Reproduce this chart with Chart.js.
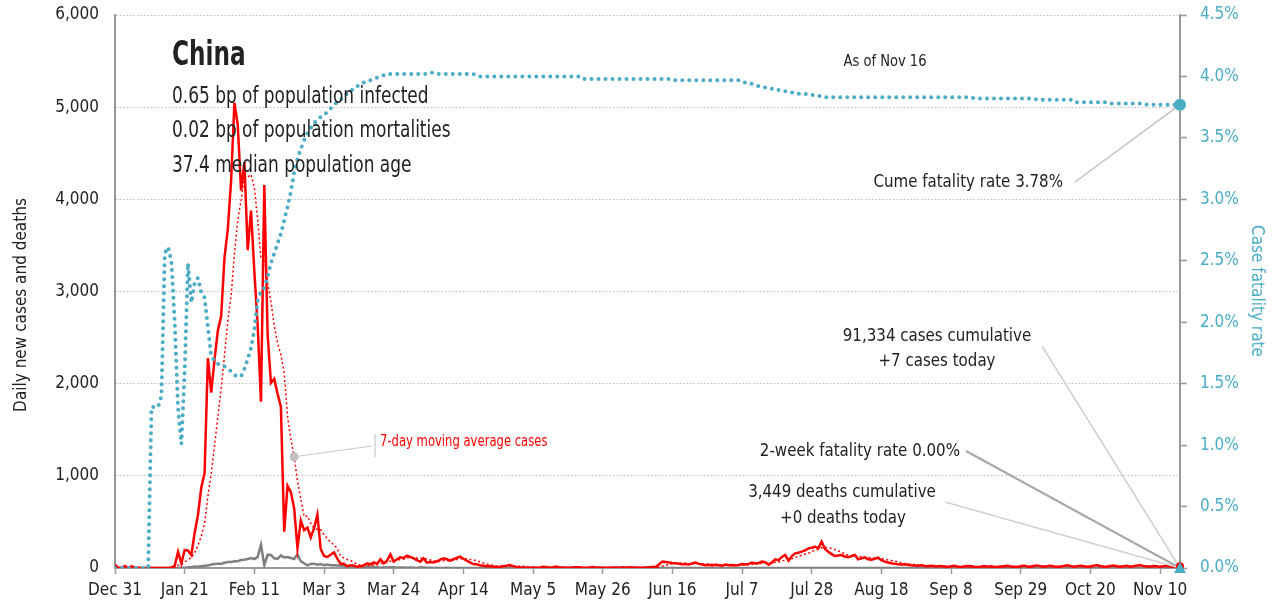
<!DOCTYPE html>
<html>
<head>
<meta charset="utf-8">
<script src="https://cdn.jsdelivr.net/npm/chart.js@4/dist/chart.umd.min.js"></script>
<style>
  body { margin: 0; background: #fff; }
</style>
</head>
<body>
<canvas id="chart" width="1274" height="610"></canvas>
<script>
// x ticks every 21 days from Dec 31
const xTickLabels = ['Dec 31', 'Jan 21', 'Feb 11', 'Mar 3', 'Mar 24', 'Apr 14', 'May 5', 'May 26',
  'Jun 16', 'Jul 7', 'Jul 28', 'Aug 18', 'Sep 8', 'Sep 29', 'Oct 20', 'Nov 10'];

// daily new cases, Dec 31 .. Nov 16
const cases = [
  35,0,0,22,0,20,0,0,0,0, 0,0,0,0,0,0,0,5,22,177,
  51,195,190,140,380,575,870,1030,2278,1902, 2262,2574,2733,3367,3675,4206,5049,4806,4096,4403,
  3449,3879,3215,2629,1805,4156,2538,2007,2052,1890, 1750,394,891,826,647,218,515,410,439,331,
  433,579,206,130,120,143,170,102,46,45, 20,29,24,15,20,30,50,40,60,45,
  94,51,80,148,69,95,116,110,134,120, 105,85,69,105,58,65,60,70,90,105,
  95,80,95,110,123,100,80,60,43,40, 30,25,20,18,15,12,14,20,25,33,
  20,12,8,6,4,3,5,2,3,14, 10,4,7,17,5,6,3,2,5,7,
  8,3,4,6,11,4,5,4,2,3, 5,6,4,8,3,7,5,6,4,3,
  6,8,10,12,40,69,65,60,55,51, 45,40,42,38,50,58,45,38,30,35,
  28,35,30,25,38,30,33,28,33,43, 38,45,58,50,55,69,62,35,60,94,
  85,120,141,80,130,159,165,177,190,213, 220,231,215,285,206,177,150,130,135,141,
  125,116,130,141,94,105,116,95,90,100, 112,85,69,60,51,45,40,38,40,35,
  30,28,25,30,22,20,25,18,20,22, 15,12,18,25,14,10,16,22,19,13,
  9,15,21,14,18,12,10,16,20,23, 17,14,11,19,26,15,13,21,28,18,
  14,20,24,17,12,16,21,29,22,15, 19,24,18,13,17,25,32,20,16,14,
  22,27,19,13,18,24,15,20,26,33, 21,17,15,22,18,12,20,25,16,14,
  13,7
];

// 7-day moving average of cases
const avgCases = [
  5,5,5,8,8,11,11,6,6,6, 3,3,0,0,0,0,0,1,4,29,
  36,64,91,111,165,244,343,483,780,1025, 1328,1642,1950,2307,2684,2960,3409,3773,3990,4229,
  4241,4270,4128,3782,3354,3362,3096,2890,2629,2440, 2314,2112,1646,1401,1207,945,749,557,564,484,
  428,418,416,361,320,277,254,207,131,108, 92,79,62,40,28,26,27,30,34,37,
  48,53,60,74,78,83,93,96,107,113, 107,109,106,104,97,87,78,73,74,79,
  78,81,85,92,100,101,98,93,87,79, 68,54,43,34,27,23,19,18,18,20,
  20,19,19,18,15,12,8,6,4,5, 6,6,6,8,9,9,7,6,6,6,
  5,5,5,5,6,6,6,5,5,4, 4,4,4,5,5,5,5,5,5,5,
  5,6,6,7,12,21,30,38,44,50, 55,55,51,47,46,46,45,44,43,42,
  41,38,34,32,32,32,31,31,31,33, 35,36,40,42,46,51,54,53,56,61,
  66,75,85,88,101,116,126,139,149,159, 179,194,202,219,223,221,212,199,185,175,
  152,139,132,131,126,122,118,114,110,106, 102,100,95,87,81,75,66,55,49,44,
  40,37,34,32,30,27,26,24,23,22, 20,18,17,18,17,17,16,17,18,17,
  15,15,16,16,16,15,15,15,15,16, 17,16,16,17,18,18,18,18,19,19,
  19,20,21,20,19,18,18,20,20,19, 19,21,21,20,19,20,21,21,20,20,
  21,22,21,19,18,20,20,20,20,22, 22,22,21,21,20,20,18,18,18,17,
  17,15
];

// daily new deaths
const deaths = [
  0,0,0,0,0,0,0,0,0,0, 0,1,0,0,0,0,1,0,1,1,
  3,3,9,8,16,14,20,25,26,38, 43,46,45,57,64,65,73,73,86,89,
  97,108,97,121,254,30,143,142,105,98, 136,114,118,109,97,150,71,52,29,44,
  47,35,42,31,38,31,30,28,27,22, 17,22,11,7,13,10,14,13,11,8,
  3,7,6,9,7,4,6,5,3,5, 4,1,7,6,2,3,1,2,1,1,
  2,1,1,0,1,0,0,1,0,0, 0,0,0,0,0,0,0,0,0,0,
  0,0,0,0,0,0,0,0,0,0, 0,0,0,0,0,0,0,0,0,0,
  0,0,0,0,0,0,0,0,0,0, 0,0,0,0,0,0,0,0,0,0,
  0,0,0,0,0,0,0,0,0,0, 0,0,0,0,0,0,0,0,0,0,
  0,0,0,0,0,0,0,0,0,0, 0,0,0,0,0,0,0,0,0,0,
  0,0,0,0,0,0,0,0,0,0, 0,0,0,0,0,0,0,0,0,0,
  0,0,0,0,0,0,0,0,0,0, 0,0,0,0,0,0,0,0,0,0,
  0,0,0,0,0,0,0,0,0,0, 0,0,0,0,0,0,0,0,0,0,
  0,0,0,0,0,0,0,0,0,0, 0,0,0,0,0,0,0,0,0,0,
  0,0,0,0,0,0,0,0,0,0, 0,0,0,0,0,0,0,0,0,0,
  0,0,0,0,0,0,0,0,0,0, 0,0,0,0,0,0,0,0,0,0,
  0,0
];

// cumulative case fatality rate, %
const cfr = [
  0,0,0,0,0,0,0,0,0,0, 0,1.31,1.31,1.31,1.40,2.56,2.61,2.50,2.0,1.3,
  1.01,1.6,2.48,2.16,2.32,2.36,2.24,2.2,1.96,1.72, 1.69,1.66,1.65,1.64,1.62,1.60,1.57,1.56,1.56,1.62,
  1.70,1.79,1.94,2.18,2.25,2.28,2.37,2.48,2.56,2.64, 2.72,2.83,2.94,3.06,3.22,3.33,3.41,3.48,3.54,3.58,
  3.62,3.65,3.67,3.69,3.71,3.74,3.77,3.79,3.81,3.84, 3.86,3.88,3.90,3.92,3.94,3.95,3.96,3.97,3.98,3.99,
  4.00,4.01,4.02,4.02,4.02,4.02,4.02,4.02,4.02,4.02, 4.02,4.02,4.02,4.02,4.02,4.03,4.03,4.02,4.02,4.02,
  4.02,4.02,4.02,4.02,4.02,4.02,4.02,4.02,4.02,4.01, 4.00,4.00,4.00,4.00,4.00,4.00,4.00,4.00,4.00,4.00,
  4.00,4.00,4.00,4.00,4.00,4.00,4.00,4.00,4.00,4.00, 4.00,4.00,4.00,4.00,4.00,4.00,4.00,4.00,4.00,4.00,
  4.00,3.98,3.98,3.98,3.98,3.98,3.98,3.98,3.98,3.98, 3.98,3.98,3.98,3.98,3.98,3.98,3.98,3.98,3.98,3.98,
  3.98,3.98,3.98,3.98,3.98,3.98,3.98,3.98,3.97,3.97, 3.97,3.97,3.97,3.97,3.97,3.97,3.97,3.97,3.97,3.97,
  3.97,3.97,3.97,3.97,3.97,3.97,3.97,3.97,3.97,3.96, 3.95,3.94,3.94,3.93,3.92,3.92,3.91,3.91,3.90,3.90,
  3.89,3.89,3.88,3.88,3.87,3.87,3.86,3.86,3.86,3.85, 3.85,3.85,3.84,3.84,3.83,3.83,3.83,3.83,3.83,3.83,
  3.83,3.83,3.83,3.83,3.83,3.83,3.83,3.83,3.83,3.83, 3.83,3.83,3.83,3.83,3.83,3.83,3.83,3.83,3.83,3.83,
  3.83,3.83,3.83,3.83,3.83,3.83,3.83,3.83,3.83,3.83, 3.83,3.83,3.83,3.83,3.83,3.83,3.83,3.83,3.83,3.82,
  3.82,3.82,3.82,3.82,3.82,3.82,3.82,3.82,3.82,3.82, 3.82,3.82,3.82,3.82,3.82,3.82,3.82,3.82,3.81,3.81,
  3.81,3.81,3.81,3.81,3.81,3.81,3.81,3.81,3.81,3.81, 3.79,3.79,3.79,3.79,3.79,3.79,3.79,3.79,3.79,3.79,
  3.78,3.78,3.78,3.78,3.78,3.78,3.78,3.78,3.78,3.78, 3.78,3.77,3.77,3.77,3.77,3.77,3.77,3.77,3.77,3.77,
  3.77,3.77
];

const FONT = "'Liberation Sans Narrow', 'DejaVu Sans Condensed', 'Roboto Condensed', sans-serif";
const TEAL = '#4bacc6';
const RED = '#ff0000';
const DARK = '#222222';

Chart.defaults.font.family = FONT;
Chart.defaults.color = DARK;

const toXY = arr => arr.map((v, i) => ({ x: i, y: v }));

function line(ctx, x1, y1, x2, y2, color, w) {
  ctx.beginPath();
  ctx.strokeStyle = color;
  ctx.lineWidth = w;
  ctx.moveTo(x1, y1);
  ctx.lineTo(x2, y2);
  ctx.stroke();
}

// text squeezed horizontally by sx to get the narrow look of the original
function text(ctx, s, x, y, size, color, align, sx, weight) {
  ctx.save();
  ctx.translate(x, y);
  ctx.scale(sx || 1, 1);
  ctx.font = (weight || 'normal') + ' ' + size + 'px ' + FONT;
  ctx.fillStyle = color;
  ctx.textAlign = align || 'left';
  ctx.textBaseline = 'middle';
  ctx.fillText(s, 0, 0);
  ctx.restore();
}

// keep the plot area fixed: y axes get no extra top/bottom padding
const noVPad = scale => {
  scale.paddingTop = 0;
  scale.paddingBottom = 0;
};

const annotate = {
  id: 'annotate',
  afterDatasetsDraw(chart) {
    const { ctx, scales } = chart;
    const x = scales.x, y = scales.y, y2 = scales.y2;
    const last = cases.length - 1;
    const endX = x.getPixelForValue(last);
    const cfrY = y2.getPixelForValue(cfr[last]);
    const baseY = y.getPixelForValue(0);
    ctx.save();

    // title block
    text(ctx, 'China', 172, 56, 33, DARK, 'left', 0.78, '600');
    text(ctx, '0.65 bp of population infected', 172, 97, 23, DARK, 'left', 0.82);
    text(ctx, '0.02 bp of population mortalities', 172, 131, 23, DARK, 'left', 0.82);
    text(ctx, '37.4 median population age', 172, 166, 23, DARK, 'left', 0.82);
    text(ctx, 'As of Nov 16', 885, 62, 15, DARK, 'center', 0.97);

    // 7-day average callout
    const mx = x.getPixelForValue(54), my = y.getPixelForValue(avgCases[54]);
    line(ctx, mx, my, 372, 446, '#c8c8c8', 1.2);
    line(ctx, 375, 434, 375, 457, '#c8c8c8', 1.2);
    ctx.beginPath();
    ctx.fillStyle = '#c0c0c0';
    ctx.arc(mx, my, 4.5, 0, Math.PI * 2);
    ctx.fill();
    text(ctx, '7-day moving average cases', 380, 442, 15, RED, 'left', 0.86);

    // right side callouts
    line(ctx, 1075, 182, endX, cfrY, '#c0c0c0', 1.5);
    text(ctx, 'Cume fatality rate 3.78%', 1063, 182, 18, DARK, 'right', 0.93);

    line(ctx, 1042, 346, endX, baseY, '#d0d0d0', 1.5);
    text(ctx, '91,334 cases cumulative', 937, 336, 18, DARK, 'center', 0.93);
    text(ctx, '+7 cases today', 937, 361, 18, DARK, 'center', 0.93);

    line(ctx, 966, 451, endX, baseY, '#a8a8a8', 2);
    text(ctx, '2-week fatality rate 0.00%', 960, 451, 18, DARK, 'right', 0.93);

    line(ctx, 945, 502, endX, baseY, '#d0d0d0', 1.5);
    text(ctx, '3,449 deaths cumulative', 842, 492, 18, DARK, 'center', 0.93);
    text(ctx, '+0 deaths today', 843, 518, 18, DARK, 'center', 0.93);

    // end markers
    ctx.beginPath();
    ctx.fillStyle = TEAL;
    ctx.arc(endX, cfrY, 6, 0, Math.PI * 2);
    ctx.fill();
    ctx.beginPath();
    ctx.fillStyle = RED;
    ctx.arc(endX, y.getPixelForValue(cases[last]) - 1, 4, 0, Math.PI * 2);
    ctx.fill();
    ctx.beginPath();
    ctx.fillStyle = TEAL;
    ctx.moveTo(endX, baseY - 6);
    ctx.lineTo(endX + 6, baseY + 5);
    ctx.lineTo(endX - 6, baseY + 5);
    ctx.closePath();
    ctx.fill();

    // axis titles
    ctx.save();
    ctx.translate(22, 305);
    ctx.rotate(-Math.PI / 2);
    text(ctx, 'Daily new cases and deaths', 0, 0, 17, DARK, 'center');
    ctx.restore();
    ctx.save();
    ctx.translate(1256, 291);
    ctx.rotate(Math.PI / 2);
    text(ctx, 'Case fatality rate', 0, 0, 17, TEAL, 'center');
    ctx.restore();

    ctx.restore();
  }
};

new Chart(document.getElementById('chart'), {
  type: 'line',
  data: {
    datasets: [
      {
        label: 'Case fatality rate',
        data: toXY(cfr),
        yAxisID: 'y2',
        borderColor: TEAL,
        borderWidth: 4,
        borderDash: [0, 7],
        borderCapStyle: 'round',
        pointRadius: 0,
        order: 0
      },
      {
        label: 'Daily new cases',
        data: toXY(cases),
        yAxisID: 'y',
        borderColor: RED,
        borderWidth: 2.5,
        pointRadius: 0,
        order: 1
      },
      {
        label: '7-day moving average cases',
        data: toXY(avgCases),
        yAxisID: 'y',
        borderColor: RED,
        borderWidth: 1.5,
        borderDash: [2, 2.5],
        pointRadius: 0,
        order: 2
      },
      {
        label: 'Daily new deaths',
        data: toXY(deaths),
        yAxisID: 'y',
        borderColor: '#808080',
        borderWidth: 2.5,
        pointRadius: 0,
        order: 3
      }
    ]
  },
  options: {
    responsive: false,
    animation: false,
    events: [],
    layout: { padding: { top: 15, left: 0, right: 0, bottom: 0 } },
    plugins: {
      legend: { display: false },
      tooltip: { enabled: false }
    },
    scales: {
      x: {
        type: 'linear',
        min: 0,
        max: cases.length - 1,
        afterBuildTicks: scale => {
          scale.ticks = xTickLabels.map((_, i) => ({ value: i * 21 }));
        },
        afterFit: scale => {
          scale.height = 42;
          scale.paddingLeft = 0;
          scale.paddingRight = 0;
        },
        ticks: {
          callback: v => xTickLabels[Math.round(v / 21)],
          font: { size: 17 },
          color: DARK,
          padding: 6,
          maxRotation: 0,
          autoSkip: false
        },
        grid: { drawOnChartArea: false, tickLength: 6, tickColor: '#999', tickWidth: 1.5 },
        border: { color: '#999', width: 2 }
      },
      y: {
        position: 'left',
        min: 0,
        max: 6000,
        afterFit: scale => { scale.width = 115; noVPad(scale); },
        ticks: {
          stepSize: 1000,
          callback: v => v.toLocaleString('en-US'),
          font: { size: 17 },
          color: DARK,
          padding: 16
        },
        grid: { color: '#bdbdbd', lineWidth: 1, drawTicks: false },
        border: { color: '#999', width: 2, dash: [1.5, 2] }
      },
      y2: {
        position: 'right',
        min: 0,
        max: 4.5,
        afterFit: scale => { scale.width = 94; noVPad(scale); },
        ticks: {
          stepSize: 0.5,
          callback: v => v.toFixed(1) + '%',
          font: { size: 17 },
          color: TEAL,
          padding: 13
        },
        grid: { drawOnChartArea: false, tickLength: 7, tickColor: '#999', tickWidth: 1.5 },
        border: { color: '#999', width: 2 }
      }
    }
  },
  plugins: [annotate]
});
</script>
</body>
</html>
